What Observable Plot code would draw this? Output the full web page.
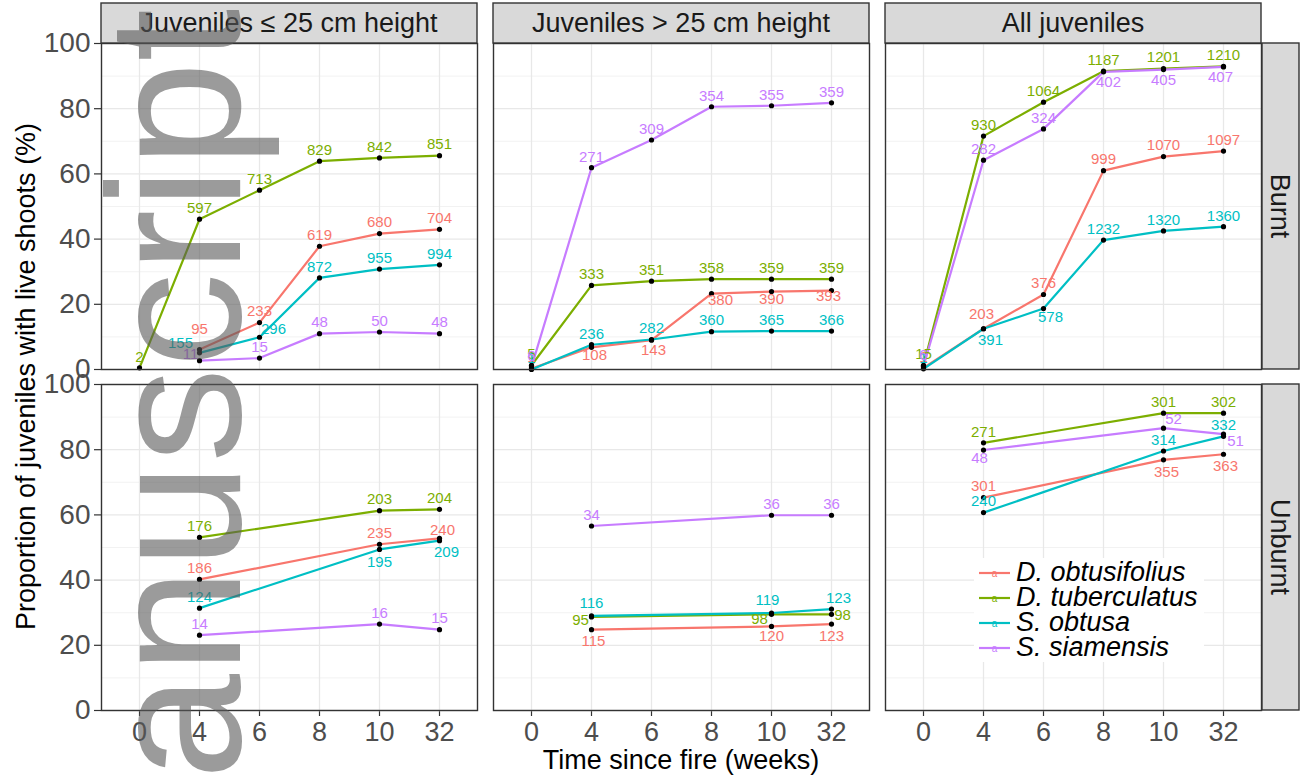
<!DOCTYPE html>
<html>
<head>
<meta charset="utf-8">
<script src="https://cdn.jsdelivr.net/npm/d3@7"></script>
<script src="https://cdn.jsdelivr.net/npm/@observablehq/plot@0.6"></script>
<style>
  html, body { margin: 0; padding: 0; background: #fff; }
  #wrap { position: relative; width: 1306px; height: 778px; overflow: hidden; font-family: "Liberation Sans", Arial, sans-serif; }
  #wrap svg.chart [aria-label^="y-axis"] text { font-size: 28px; fill: #4d4d4d; }
  #wrap svg.chart [aria-label^="x-axis"] text { font-size: 27px; fill: #4d4d4d; }
  #wrap svg.chart [aria-label^="y-axis"] path, #wrap svg.chart [aria-label^="y-axis"] line,
  #wrap svg.chart [aria-label^="x-axis"] path, #wrap svg.chart [aria-label^="x-axis"] line { stroke: #333; stroke-width: 1.2px; }
  #legend { position: absolute; left: 974px; top: 558px; background: #fff; padding: 2px 6px 2px 2px; }
  #legend .row { display: flex; align-items: center; height: 25px; }
  #legend .lab { font-style: italic; font-size: 27px; color: #000; line-height: 25px; margin-left: 4px; white-space: nowrap; }
  #wm { position: absolute; left: 0; top: 0; pointer-events: none; }
</style>
</head>
<body>
<div id="wrap"></div>
<script>
// ---------------- data ----------------
const weeks = ["0", "4", "6", "8", "10", "32"];
const species = ["D. obtusifolius", "D. tuberculatus", "S. obtusa", "S. siamensis"];
const speciesColors = ["#F8766D", "#7CAE00", "#00BFC4", "#C77CFF"];
const sizeClasses = ["Juveniles ≤ 25 cm height", "Juveniles > 25 cm height", "All juveniles"];
const treatments = ["Burnt", "Unburnt"];
const yMajorTicks = [0, 20, 40, 60, 80, 100];
const yMinorTicks = [10, 30, 50, 70, 90];

// % of juveniles with live shoots; rows = species, columns = weeks (null = not recorded)
const burntSmallPct = [
  [null, 6.1, 14.4, 37.8, 41.7, 43.0],
  [0.5, 46.1, 55.0, 63.9, 64.9, 65.6],
  [null, 5.1, 9.9, 28.1, 30.8, 32.1],
  [null, 2.7, 3.5, 11.0, 11.5, 11.0]
];
const burntSmallN = [
  [null, 95, 233, 619, 680, 704],
  [2, 597, 713, 829, 842, 851],
  [null, 155, 296, 872, 955, 994],
  [null, 11, 15, 48, 50, 48]
];
const burntTallPct = [
  [0.3, 6.8, 9.0, 23.3, 23.9, 24.2],
  [1.3, 25.8, 27.1, 27.7, 27.7, 27.7],
  [0.0, 7.6, 9.2, 11.6, 11.8, 11.8],
  [0.8, 61.9, 70.4, 80.6, 80.9, 81.8]
];
const burntTallN = [
  [1, 108, 143, 380, 390, 393],
  [5, 333, 351, 358, 359, 359],
  [1, 236, 282, 360, 365, 366],
  [6, 271, 309, 354, 355, 359]
];
const burntAllPct = [
  [0.5, 12.5, 23.0, 61.0, 65.3, 67.0],
  [1.3, 71.6, 82.0, 91.5, 92.3, 93.0],
  [0.2, 12.5, 18.7, 39.7, 42.5, 43.8],
  [1.0, 64.2, 73.8, 91.3, 92.0, 92.8]
];
const burntAllN = [
  [1, 203, 376, 999, 1070, 1097],
  [15, 930, 1064, 1187, 1201, 1210],
  [1, 391, 578, 1232, 1320, 1360],
  [6, 282, 324, 402, 405, 407]
];
const unburntSmallPct = [
  [null, 40.2, null, null, 51.0, 52.8],
  [null, 53.1, null, null, 61.3, 61.7],
  [null, 31.4, null, null, 49.4, 52.1],
  [null, 23.1, null, null, 26.5, 24.8]
];
const unburntSmallN = [
  [null, 186, null, null, 235, 240],
  [null, 176, null, null, 203, 204],
  [null, 124, null, null, 195, 209],
  [null, 14, null, null, 16, 15]
];
const unburntTallPct = [
  [null, 24.8, null, null, 25.8, 26.5],
  [null, 28.7, null, null, 29.5, 29.5],
  [null, 29.0, null, null, 29.9, 31.1],
  [null, 56.6, null, null, 59.9, 59.9]
];
const unburntTallN = [
  [null, 115, null, null, 120, 123],
  [null, 95, null, null, 98, 98],
  [null, 116, null, null, 119, 123],
  [null, 34, null, null, 36, 36]
];
const unburntAllPct = [
  [null, 65.3, null, null, 76.9, 78.6],
  [null, 82.1, null, null, 91.2, 91.2],
  [null, 60.7, null, null, 79.6, 84.1],
  [null, 79.9, null, null, 86.6, 84.8]
];
const unburntAllN = [
  [null, 301, null, null, 355, 363],
  [null, 271, null, null, 301, 302],
  [null, 240, null, null, 314, 332],
  [null, 48, null, null, 52, 51]
];

// ---------------- label placement (style) ----------------
const defaultNudge = [0, -11];
const labelNudge = {
  "0|2|4": [-19, -10], "0|3|4": [-9, -7], "0|0|4": [0, -20], "0|2|6": [14, -8],
  "1|0|4": [3, 8], "1|0|6": [2, 10], "1|0|8": [9, 7], "1|0|10": [0, 8], "1|0|32": [-3, 6],
  "2|0|4": [-2, -15], "2|2|4": [7, 11], "2|2|6": [7, 9], "2|3|8": [5, 10], "2|3|10": [0, 11], "2|3|32": [-3, 10],
  "3|2|10": [0, 13], "3|2|32": [7, 12], "3|0|32": [3, -8],
  "4|1|4": [-11, 3], "4|1|10": [-12, 5], "4|1|32": [11, 1], "4|0|4": [2, 12], "4|0|10": [0, 10], "4|0|32": [0, 12],
  "4|2|4": [0, -13], "4|2|10": [-4, -13], "4|2|32": [7, -11],
  "5|3|4": [-4, 8], "5|3|10": [10, -9], "5|3|32": [12, 7], "5|0|10": [3, 12], "5|0|32": [2, 12]
};

// ---------------- build table ----------------
const panelPct = [burntSmallPct, burntTallPct, burntAllPct, unburntSmallPct, unburntTallPct, unburntAllPct];
const panelN = [burntSmallN, burntTallN, burntAllN, unburntSmallN, unburntTallN, unburntAllN];
const rows = [];
panelPct.forEach((table, p) => {
  const size = sizeClasses[p % 3];
  const treat = treatments[Math.floor(p / 3)];
  table.forEach((vals, s) => vals.forEach((v, w) => {
    if (v == null) return;
    rows.push({ p, s, size, treat, species: species[s], week: weeks[w], pct: v, n: panelN[p][s][w] });
  }));
});

const nudgeOf = d => labelNudge[`${d.p}|${d.s}|${d.week}`] || defaultNudge;
const groups = d3.group(rows, d => nudgeOf(d).join(","));
const textMarks = Array.from(groups, ([k, arr]) => {
  const [dx, dy] = k.split(",").map(Number);
  return Plot.text(arr, {
    x: "week", y: "pct", fx: "size", fy: "treat",
    text: d => String(d.n), fill: "species", dx, dy, fontSize: 15
  });
});

const W = 1306, H = 778;
const mLeft = 101, mRight = 45, mTop = 43, mBottom = 68;

const plot = Plot.plot({
  width: W, height: H,
  marginLeft: mLeft, marginRight: mRight, marginTop: mTop, marginBottom: mBottom,
  style: { fontFamily: "'Liberation Sans', Arial, sans-serif", background: "white", overflow: "visible" },
  fx: { domain: sizeClasses, axis: null, paddingInner: 16 / 392, paddingOuter: 0, round: false },
  fy: { domain: treatments, axis: null, paddingInner: 15 / 341, paddingOuter: 0, round: false },
  x: { type: "point", domain: weeks, padding: 0.6, label: null, tickSize: 6, tickPadding: 5 },
  y: { domain: [0, 100], ticks: yMajorTicks, label: null, tickSize: 7, tickPadding: 4 },
  color: { domain: species, range: speciesColors },
  marks: [
    Plot.ruleY(yMinorTicks, { stroke: "#ececec", strokeWidth: 0.7 }),
    Plot.ruleY(yMajorTicks, { stroke: "#e8e8e8", strokeWidth: 1.3 }),
    Plot.ruleX(weeks, { stroke: "#e8e8e8", strokeWidth: 1.3 }),
    Plot.line(rows, { x: "week", y: "pct", z: "species", stroke: "species", fx: "size", fy: "treat", strokeWidth: 2.2 }),
    Plot.dot(rows, { x: "week", y: "pct", fx: "size", fy: "treat", fill: "black", r: 2.6 }),
    ...textMarks,
    Plot.frame({ stroke: "#333", strokeWidth: 1.4 })
  ]
});
plot.classList.add("chart");
const wrap = document.getElementById("wrap");
wrap.appendChild(plot);

// ---------------- strips & axis titles (from the facet scales) ----------------
function bandFrom(desc) {
  return d3.scaleBand(desc.domain, desc.range)
    .paddingInner(desc.paddingInner ?? 0).paddingOuter(desc.paddingOuter ?? 0).align(desc.align ?? 0.5);
}
const fxB = bandFrom(plot.scale("fx"));
const fyB = bandFrom(plot.scale("fy"));
const svg = d3.select(plot);
const stripG = svg.append("g").attr("class", "strips");
const stripTop = 3;
sizeClasses.forEach(c => {
  const x0 = fxB(c), bw = fxB.bandwidth();
  stripG.append("rect").attr("x", x0).attr("y", stripTop).attr("width", bw).attr("height", mTop - stripTop)
    .attr("fill", "#d9d9d9").attr("stroke", "#333").attr("stroke-width", 1.4);
  stripG.append("text").attr("x", x0 + bw / 2).attr("y", (stripTop + mTop) / 2).attr("dy", "0.35em")
    .attr("text-anchor", "middle").attr("font-size", 27).attr("fill", "#1a1a1a").text(c);
});
const stripX0 = W - mRight + 1, stripX1 = W - 7;
treatments.forEach(t => {
  const y0 = fyB(t), bh = fyB.bandwidth();
  stripG.append("rect").attr("x", stripX0).attr("y", y0).attr("width", stripX1 - stripX0).attr("height", bh)
    .attr("fill", "#d9d9d9").attr("stroke", "#333").attr("stroke-width", 1.4);
  stripG.append("text").attr("transform", `translate(${(stripX0 + stripX1) / 2},${y0 + bh / 2}) rotate(90)`)
    .attr("dy", "0.35em").attr("text-anchor", "middle").attr("font-size", 27).attr("fill", "#1a1a1a").text(t);
});
const fyRange = plot.scale("fy").range;
svg.append("text").attr("transform", `translate(34.5,${(fyRange[0] + fyRange[1]) / 2}) rotate(-90)`)
  .attr("text-anchor", "middle").attr("font-size", 27).attr("fill", "#000")
  .text("Proportion of juveniles with live shoots (%)");
const fxRange = plot.scale("fx").range;
svg.append("text").attr("x", (fxRange[0] + fxRange[1]) / 2).attr("y", 769)
  .attr("text-anchor", "middle").attr("font-size", 27).attr("fill", "#000")
  .text("Time since fire (weeks)");

// ---------------- legend ----------------
const legend = document.createElement("div");
legend.id = "legend";
species.forEach((sp, i) => {
  const row = document.createElement("div");
  row.className = "row";
  row.innerHTML = `<svg width="36" height="25"><line x1="3" x2="34" y1="13" y2="13" stroke="${speciesColors[i]}" stroke-width="2.2"/>` +
    `<text x="18.5" y="16.5" text-anchor="middle" font-size="10" fill="${speciesColors[i]}" font-family="Liberation Sans, Arial">a</text></svg>` +
    `<span class="lab">${sp}</span>`;
  legend.appendChild(row);
});
wrap.appendChild(legend);

// ---------------- watermark ----------------
const wm = d3.select(wrap).append("svg").attr("id", "wm").attr("width", W).attr("height", H);
wm.append("text").attr("transform", "translate(240,938) rotate(-90)")
  .attr("font-family", "Liberation Sans, Arial, sans-serif").attr("font-size", 190)
  .attr("fill", "rgb(88,88,88)").attr("fill-opacity", 0.6).text("Manuscript");
</script>
</body>
</html>
